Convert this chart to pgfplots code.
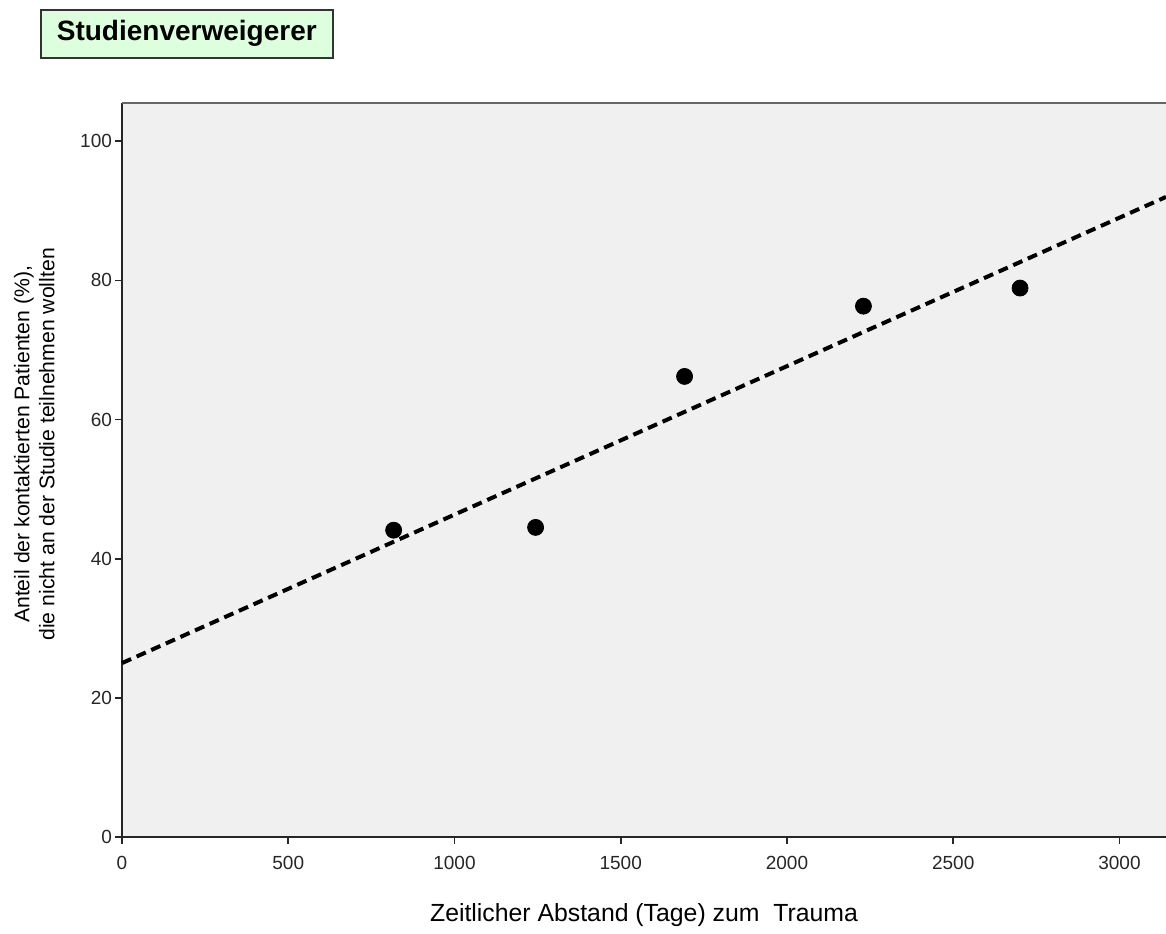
\documentclass[border=0pt]{standalone}
\usepackage{pgfplots}
\pgfplotsset{compat=1.18}
\usepackage{fontspec}
\setmainfont{Liberation Sans}
\definecolor{bgray}{RGB}{240,240,240}
\definecolor{tgreen}{RGB}{221,255,221}
\begin{document}
\begin{tikzpicture}
\useasboundingbox (-61pt,-48pt) rectangle (522pt,418.5pt);
\begin{axis}[
  at={(0,0)}, anchor=south west,
  width=522pt, height=367pt, scale only axis,
  xmin=0, xmax=3140, ymin=0, ymax=105.5,
  xtick={0,500,...,3000}, ytick={0,20,...,100},
  separate axis lines,
  axis x line*=bottom, axis y line*=left,
  axis line style={line width=1pt, color=black!85, -},
  tick style={line width=0.9pt, color=black!85},
  tick align=outside, major tick length=3.5pt,
  axis background/.style={fill=bgray},
  /pgf/number format/assume math mode=true,
  /pgf/number format/1000 sep={},
  ticklabel style={font=\fontsize{9.5}{10}\selectfont, color=black!85},
  xticklabel style={yshift=-2.5pt},
  yticklabel style={xshift=2pt},
  xlabel={Zeitlicher Abstand (Tage) zum \ Trauma},
  xlabel style={font=\fontsize{12.4}{14}\selectfont, yshift=-10pt},
  ylabel={Anteil der kontaktierten Patienten (\%),\\die nicht an der Studie teilnehmen wollten},
  ylabel style={font=\fontsize{10.6}{12.5}\selectfont, align=center, at={(ticklabel cs:0.535,6pt)}},
  clip=false,
]
\addplot[only marks, mark=*, mark size=4pt, mark options={fill=black, draw=black}]
  coordinates {(817,44.1) (1244,44.5) (1692,66.2) (2230,76.3) (2701,78.9)};
\addplot[line width=2pt, dash pattern=on 5pt off 3pt, black]
  coordinates {(0,25.0) (3140,92.0)};
\draw[line width=1pt, color=black!60] (rel axis cs:0,1) -- (rel axis cs:1,1);
\end{axis}
\node[draw=black!80, fill=tgreen, line width=0.8pt, anchor=north west, minimum width=146pt, minimum height=24pt, inner sep=0pt,
  font=\bfseries\fontsize{14}{16}\selectfont] at (-41pt,414pt) {Studienverweigerer};
\end{tikzpicture}
\end{document}
